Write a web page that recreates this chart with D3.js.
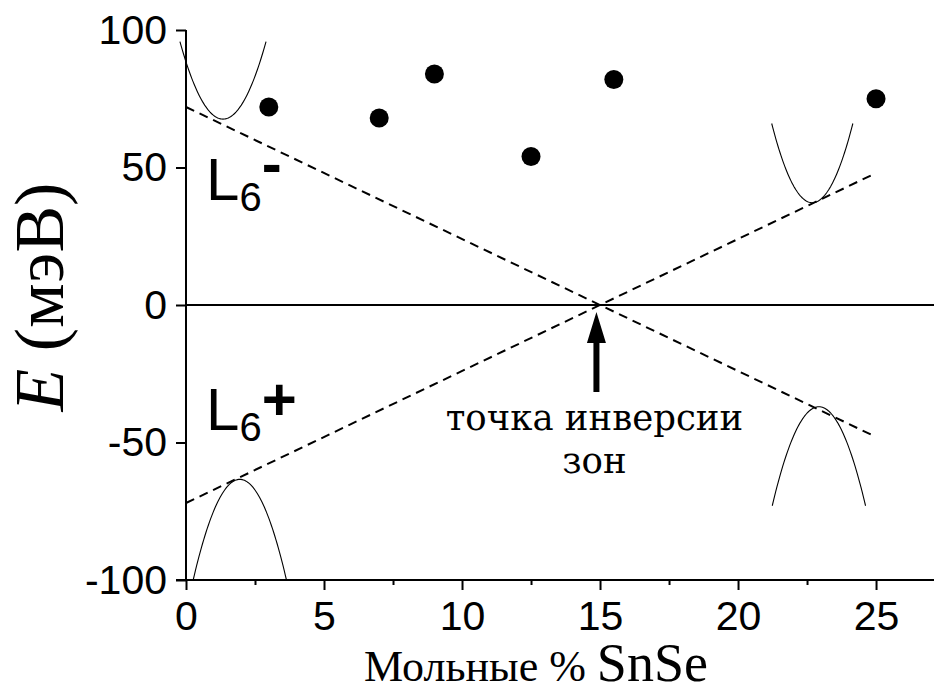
<!DOCTYPE html>
<html>
<head>
<meta charset="utf-8">
<script src="https://cdn.jsdelivr.net/npm/d3@7"></script>
<style>
  html, body { margin: 0; padding: 0; background: #fff; }
  svg { display: block; }
</style>
</head>
<body>
<svg id="chart" width="934" height="692"></svg>
<script>
// Measured gap energies vs. SnSe content
const samplePercent = [3, 7, 9, 12.5, 15.5, 25];
const sampleEnergy  = [72, 68, 84, 54, 82, 75];

// Band-edge guide lines (L6- and L6+ terms), straight between two ends
const edgeX      = [0, 25];
const edgeMinusE = [72, -48];
const edgePlusE  = [-72, 48];

// Schematic band parabolas: vertex position, vertex energy, half width, energy at the ends
const bandVertexX    = [1.34, 1.95, 22.69, 22.93];
const bandVertexE    = [67.6, -63.4, 37.2, -37.0];
const bandHalfWidth  = [1.56, 1.69, 1.47, 1.69];
const bandEndE       = [95.8, -100, 66, -73];

// Axis ticks
const xMajorTicks = [0, 5, 10, 15, 20, 25];
const xMinorTicks = [2.5, 7.5, 12.5, 17.5, 22.5];
const yTicks = [-100, -50, 0, 50, 100];

// Inversion point marker
const inversionX = 14.87;
const arrowTailE = -31.6;
const arrowTipE = -2.5;

const svg = d3.select("#chart");
const x = d3.scaleLinear().domain([0, 27.1]).range([186, 934]);
const y = d3.scaleLinear().domain([-100, 100]).range([580, 30]);

const sans = "'Liberation Sans', Arial, sans-serif";
const serif = "'Liberation Serif', 'Times New Roman', serif";
const wideSerif = "'DejaVu Serif', serif";

// Horizontal zero line
svg.append("line")
  .attr("x1", x(0)).attr("x2", x(27.1))
  .attr("y1", y(0)).attr("y2", y(0))
  .attr("stroke", "#000").attr("stroke-width", 2);

// Dashed band-edge lines
const edgeLine = d3.line().x(d => x(d[0])).y(d => y(d[1]));
[edgeMinusE, edgePlusE].forEach(es => {
  svg.append("path")
    .attr("d", edgeLine(edgeX.map((v, i) => [v, es[i]])))
    .attr("fill", "none").attr("stroke", "#000")
    .attr("stroke-width", 2).attr("stroke-dasharray", "9,6");
});

// Parabolic band sketches
const curve = d3.line().x(d => x(d[0])).y(d => y(d[1]));
bandVertexX.forEach((vx, i) => {
  const hw = bandHalfWidth[i], ve = bandVertexE[i], ee = bandEndE[i];
  const pts = d3.range(0, 81).map(k => {
    const t = -1 + k / 40;
    return [vx + t * hw, ve + (ee - ve) * t * t];
  });
  svg.append("path")
    .attr("d", curve(pts))
    .attr("fill", "none").attr("stroke", "#000").attr("stroke-width", 1.1);
});

// Data points
svg.selectAll("circle.pt")
  .data(samplePercent.map((v, i) => [v, sampleEnergy[i]]))
  .join("circle")
  .attr("class", "pt")
  .attr("cx", d => x(d[0])).attr("cy", d => y(d[1]))
  .attr("r", 9.5).attr("fill", "#000");

// Axes (plain hyphen for negative labels)
const plain = d => String(d);
const yAxis = svg.append("g")
  .attr("transform", `translate(${x(0)},0)`)
  .call(d3.axisLeft(y).tickValues(yTicks).tickSize(10).tickPadding(9).tickFormat(plain));
const xAxis = svg.append("g")
  .attr("transform", `translate(0,${y(-100)})`)
  .call(d3.axisBottom(x).tickValues(xMajorTicks).tickSize(10).tickPadding(11).tickFormat(plain));
const xMinor = svg.append("g")
  .attr("transform", `translate(0,${y(-100)})`)
  .call(d3.axisBottom(x).tickValues(xMinorTicks).tickSize(5).tickFormat(""));
xMinor.select(".domain").remove();

[yAxis, xAxis, xMinor].forEach(g => {
  g.select(".domain").attr("stroke-width", 2).attr("stroke", "#000");
  g.selectAll(".tick line").attr("stroke-width", 2).attr("stroke", "#000");
  g.selectAll(".tick text")
    .attr("fill", "#000").attr("font-family", sans).attr("font-size", 41);
});
// The axis lines themselves, spanning the full plotting region
yAxis.select(".domain").attr("d", `M0,${y(100)}V${y(-100)}`);
xAxis.select(".domain").attr("d", `M${x(0) - 10},0H${x(27.1)}`);

// Axis titles
const yTitle = svg.append("text")
  .attr("transform", `translate(63,${(y(100) + y(-100)) / 2 - 8}) rotate(-90)`)
  .attr("text-anchor", "middle")
  .attr("font-family", serif).attr("font-size", 70).attr("fill", "#000");
yTitle.append("tspan").attr("font-style", "italic").text("E");
yTitle.append("tspan").text(" (мэВ)");

const xTitle = svg.append("text")
  .attr("x", 536).attr("y", 681)
  .attr("text-anchor", "middle")
  .attr("font-family", serif).attr("fill", "#000");
xTitle.append("tspan").attr("font-size", 44).text("Мольные % ");
xTitle.append("tspan").attr("font-size", 54).text("SnSe");

// Band labels
function bandLabel(baseY, sign) {
  const t = svg.append("text")
    .attr("x", 206).attr("y", baseY)
    .attr("font-family", sans).attr("font-size", 60).attr("fill", "#000");
  t.append("tspan").text("L");
  t.append("tspan").attr("font-size", 40).attr("dy", 11).text("6");
  t.append("tspan").attr("font-size", 60).attr("font-weight", "bold")
    .attr("dy", sign === "+" ? -21 : -27).text(sign);
}
bandLabel(200, "-");
bandLabel(430, "+");

// Arrow pointing at the inversion point
const ax = x(inversionX), tail = y(arrowTailE), tip = y(arrowTipE);
const headLen = 31, headHalf = 9.5, shaftHalf = 3;
svg.append("path")
  .attr("d", `M${ax - shaftHalf},${tail} V${tip + headLen} H${ax - headHalf} L${ax},${tip} L${ax + headHalf},${tip + headLen} H${ax + shaftHalf} V${tail} Z`)
  .attr("fill", "#000");

// Annotation
const note = svg.append("text")
  .attr("text-anchor", "middle")
  .attr("font-family", wideSerif).attr("font-size", 35.5).attr("fill", "#000");
note.append("tspan").attr("x", ax - 2).attr("y", 430).text("точка инверсии");
note.append("tspan").attr("x", ax - 2).attr("y", 473).text("зон");
</script>
</body>
</html>
